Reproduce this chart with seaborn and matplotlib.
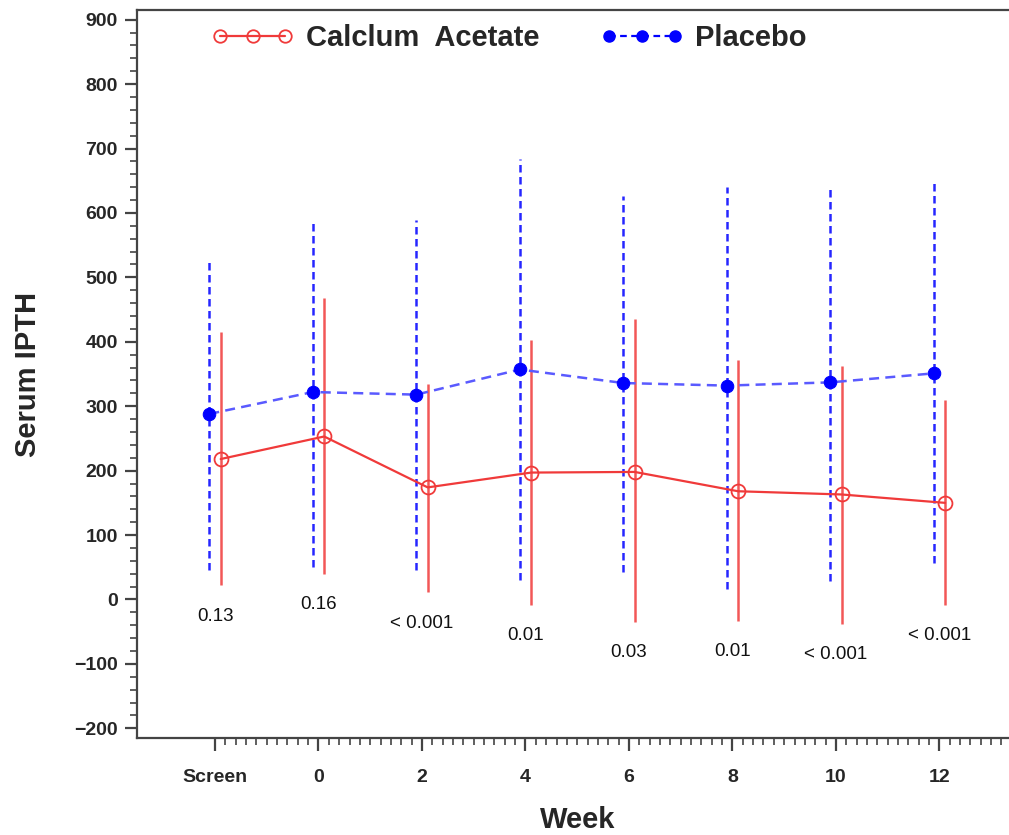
import numpy as np
import pandas as pd
import seaborn as sns
import matplotlib
matplotlib.use("Agg")
import matplotlib.pyplot as plt
from matplotlib.lines import Line2D
from matplotlib.ticker import MultipleLocator, FixedLocator


# data
weeks = ["Screen", "0", "2", "4", "6", "8", "10", "12"]
calcium_mean = [218, 253, 174, 197, 198, 168, 163, 150]
calcium_low = [22, 40, 11, -8, -35, -33, -38, -8]
calcium_high = [415, 468, 335, 402, 435, 371, 363, 309]
placebo_mean = [288, 322, 318, 357, 336, 332, 337, 351]
placebo_low = [45, 51, 45, 31, 43, 17, 29, 57]
placebo_high = [524, 589, 589, 684, 627, 641, 638, 646]
p_values = ["0.13", "0.16", "< 0.001", "0.01", "0.03", "0.01", "< 0.001", "< 0.001"]

RED = "#f03a3a"
BLUE = "#0000ff"
shift = 0.055

sns.set_style("ticks")
plt.rcParams["font.family"] = ["Liberation Sans", "DejaVu Sans"]

pos = np.arange(len(weeks))
df = pd.DataFrame({
    "pos": np.concatenate([pos + shift, pos - shift]),
    "mean": calcium_mean + placebo_mean,
    "low": calcium_low + placebo_low,
    "high": calcium_high + placebo_high,
    "group": ["Calclum  Acetate"] * len(weeks) + ["Placebo"] * len(weeks),
})
ca = df[df["group"] != "Placebo"]
pl = df[df["group"] == "Placebo"]

fig = plt.figure(figsize=(10.09, 8.35), dpi=100)
W, H = 1009, 835
ax = fig.add_axes([137.4 / W, 1 - 738 / H, (1017 - 137.4) / W, 728 / H])

# error bars (mean +/- sd)
ax.vlines(pl["pos"], pl["low"], pl["high"], colors=BLUE, linestyles=(0, (3, 1.8)), lw=1.8, alpha=0.85)
ax.vlines(ca["pos"], ca["low"], ca["high"], colors=RED, linestyles="solid", lw=1.8, alpha=0.85)

# mean lines
sns.lineplot(data=pl, x="pos", y="mean", ax=ax, color="#5a5aff", lw=1.8,
             linestyle=(0, (4, 2.5)), marker="o", markersize=9,
             markerfacecolor=BLUE, markeredgecolor=BLUE, sort=False)
sns.lineplot(data=ca, x="pos", y="mean", ax=ax, color=RED, lw=1.6,
             marker="o", markersize=10, markerfacecolor="none",
             markeredgecolor=RED, markeredgewidth=1.3, sort=False)

# p-values under each week
for i, txt in enumerate(p_values):
    ax.text(pos[i], calcium_low[i] - 48, txt, ha="center", va="center",
            fontsize=13.5, color="#111111")

ax.set_xlim(-0.75, 7.75)
ax.set_ylim(-215, 915)
ax.set_xticks(pos)
ax.set_xticklabels(weeks)
ax.xaxis.set_minor_locator(FixedLocator(np.arange(0.1, 7.76, 0.1)))
ax.yaxis.set_minor_locator(MultipleLocator(20))
ax.set_yticks(np.arange(-200, 901, 100))
ax.set_yticklabels([f"{v}".replace("-", "\u2212") for v in range(-200, 901, 100)])

ax.tick_params(axis="both", which="major", length=9, width=1.6, color="#444444",
               labelsize=14, pad=5)
ax.tick_params(axis="x", which="major", pad=13)
ax.tick_params(axis="both", which="minor", length=5, width=1.2, color="#444444")
for lab in ax.get_xticklabels() + ax.get_yticklabels():
    lab.set_fontweight("bold")
for s in ax.spines.values():
    s.set_color("#444444")
    s.set_linewidth(1.6)

ax.set_xlabel("Week", fontsize=21, fontweight="bold", labelpad=15)
ax.set_ylabel("Serum IPTH", fontsize=21, fontweight="bold", labelpad=23)

handles = [
    Line2D([], [], color=RED, lw=1.6, marker="o", markersize=9,
           markerfacecolor="none", markeredgecolor=RED, markeredgewidth=1.3),
    Line2D([], [], color=BLUE, lw=1.6, linestyle=(0, (3, 2)), marker="o",
           markersize=8, markerfacecolor=BLUE, markeredgecolor=BLUE),
]
leg = fig.legend(handles, ["Calclum  Acetate", "Placebo"], loc="center left",
                 bbox_to_anchor=(211 / W, 1 - 38 / H), ncol=2, frameon=False,
                 numpoints=3, handlelength=2.85, handletextpad=0.4,
                 columnspacing=2.1, borderpad=0, borderaxespad=0,
                 prop={"size": 21, "weight": "bold"})

fig.savefig("out.png", dpi=100)
